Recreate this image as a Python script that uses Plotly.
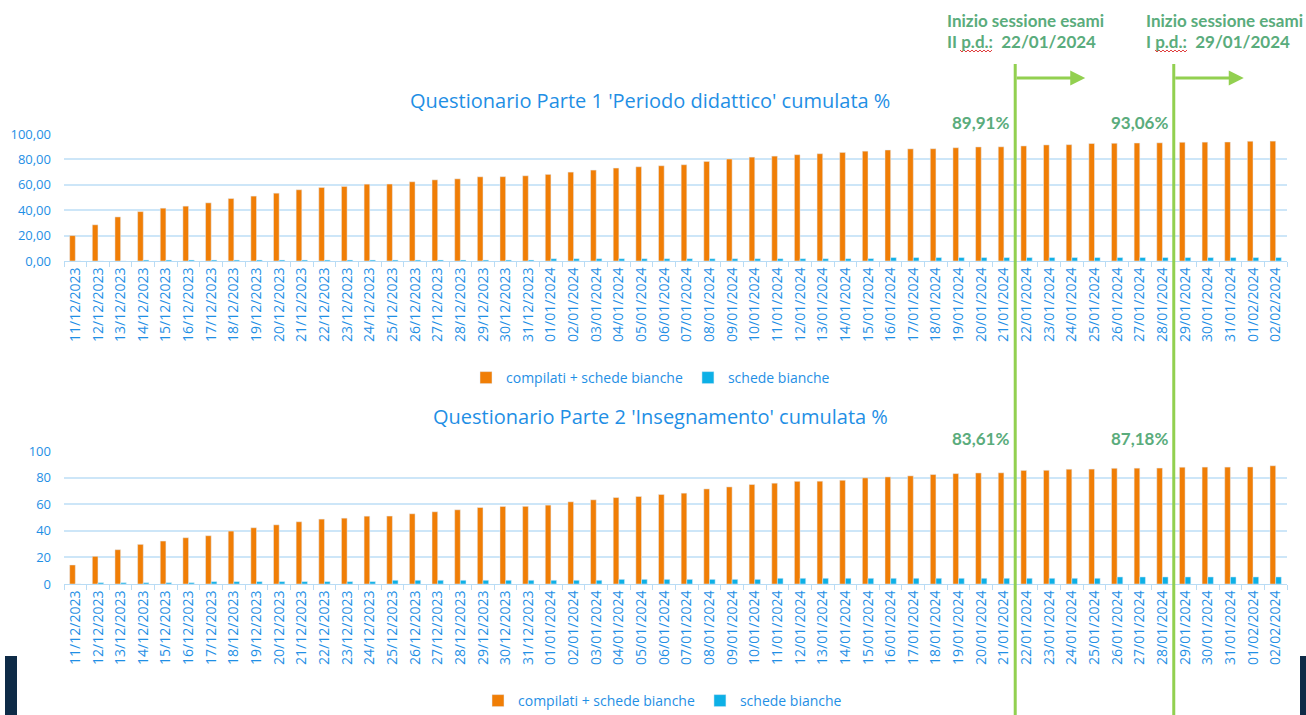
import plotly.graph_objects as go

dates = [
    "11/12/2023", "12/12/2023", "13/12/2023", "14/12/2023", "15/12/2023", "16/12/2023",
    "17/12/2023", "18/12/2023", "19/12/2023", "20/12/2023", "21/12/2023", "22/12/2023",
    "23/12/2023", "24/12/2023", "25/12/2023", "26/12/2023", "27/12/2023", "28/12/2023",
    "29/12/2023", "30/12/2023", "31/12/2023", "01/01/2024", "02/01/2024", "03/01/2024",
    "04/01/2024", "05/01/2024", "06/01/2024", "07/01/2024", "08/01/2024", "09/01/2024",
    "10/01/2024", "11/01/2024", "12/01/2024", "13/01/2024", "14/01/2024", "15/01/2024",
    "16/01/2024", "17/01/2024", "18/01/2024", "19/01/2024", "20/01/2024", "21/01/2024",
    "22/01/2024", "23/01/2024", "24/01/2024", "25/01/2024", "26/01/2024", "27/01/2024",
    "28/01/2024", "29/01/2024", "30/01/2024", "31/01/2024", "01/02/2024", "02/02/2024",
]

p1_compilati = [
    20.0, 28.5, 34.7, 38.9, 41.6, 43.2, 45.8, 49.2, 51.1, 53.4, 56.1, 57.9, 58.7, 60.5,
    60.6, 62.4, 63.9, 64.7, 66.3, 66.4, 67.1, 68.2, 70.0, 71.6, 73.2, 74.2, 75.0, 75.8,
    78.4, 80.3, 81.8, 82.6, 83.7, 84.5, 85.5, 86.5, 87.4, 88.3, 88.4, 89.2, 89.8, 89.91,
    90.6, 91.4, 91.6, 92.5, 92.7, 92.9, 93.06, 93.5, 93.6, 93.7, 94.3, 94.4,
]
p1_bianche = [
    0.0, 0.0, 0.0, 0.8, 0.8, 0.8, 0.8, 0.8, 0.8, 0.8, 0.8, 0.8, 0.8, 0.8,
    0.8, 0.8, 0.8, 0.8, 0.8, 0.8, 0.8, 1.8, 1.8, 1.8, 1.8, 1.8, 1.8, 1.8,
    1.8, 1.8, 1.8, 1.8, 1.8, 1.8, 1.8, 1.9, 2.7, 2.7, 2.7, 2.7, 2.7, 2.7,
    2.7, 2.7, 2.7, 2.7, 2.7, 2.7, 2.7, 2.7, 2.7, 2.7, 2.7, 2.7,
]
p2_compilati = [
    14.3, 20.8, 25.8, 29.8, 32.3, 34.8, 36.3, 39.8, 42.3, 44.5, 46.8, 48.8, 49.5, 51.0,
    51.1, 52.8, 54.3, 55.8, 57.5, 58.3, 58.4, 59.3, 61.8, 63.3, 65.0, 65.8, 67.3, 68.3,
    71.5, 73.0, 74.8, 75.8, 77.2, 77.3, 78.0, 79.8, 80.5, 81.3, 82.3, 83.0, 83.5, 83.61,
    85.4, 85.5, 86.3, 86.4, 87.0, 87.1, 87.18, 87.8, 87.9, 87.9, 88.0, 88.9,
]
p2_bianche = [
    0.0, 1.0, 1.0, 1.0, 1.0, 1.0, 1.8, 1.8, 1.8, 1.8, 1.8, 1.8, 1.8, 1.8,
    2.8, 2.8, 2.8, 2.8, 2.8, 2.8, 2.8, 2.8, 2.8, 2.8, 3.5, 3.5, 3.5, 3.5,
    3.5, 3.5, 3.5, 4.3, 4.3, 4.3, 4.3, 4.3, 4.3, 4.3, 4.3, 4.3, 4.3, 4.3,
    4.3, 4.3, 4.3, 4.3, 5.3, 5.3, 5.3, 5.3, 5.3, 5.3, 5.3, 5.3,
]

title1 = "Questionario Parte 1 'Periodo didattico' cumulata %"
title2 = "Questionario Parte 2 'Insegnamento' cumulata %"
series_names = ["compilati + schede bianche", "schede bianche"]
pct_labels1 = ["89,91%", "93,06%"]
pct_labels2 = ["83,61%", "87,18%"]
session_line1 = ["Inizio sessione esami", "Inizio sessione esami"]
session_line2 = ["II p.d.:  22/01/2024", "I p.d.:  29/01/2024"]
session_dates = ["22/01/2024", "29/01/2024"]
session_text_shift = [-70, -30]

ORANGE = "#f07e06"
CYAN = "#0db0e6"
BLUE = "#1f8fe5"
GRID = "#cde6f8"
GREEN_TXT = "#5aac7c"
GREEN_LINE = "#92d050"
NAVY = "#0e2b47"

# layout coordinates are given in reference pixels; vertical ones scaled by S
REF_H = 715
H = 729
S = H / REF_H
DY = -2
W = 1306
ML, MR = 64, 19
MT = (133 + DY) * S
MB = H - (583 + DY) * S
PW, PH = W - ML - MR, H - MT - MB


def px(xp):
    return (xp - ML) / PW


def py(yp):
    return (H - MB - (yp + DY) * S) / PH


fig = go.Figure()
fig.add_trace(go.Bar(x=dates, y=p1_compilati, name=series_names[0], marker_color=ORANGE,
                     xaxis="x", yaxis="y", legend="legend"))
fig.add_trace(go.Bar(x=dates, y=p1_bianche, name=series_names[1], marker_color=CYAN,
                     xaxis="x", yaxis="y", legend="legend"))
fig.add_trace(go.Bar(x=dates, y=p2_compilati, name=series_names[0], marker_color=ORANGE,
                     xaxis="x2", yaxis="y2", legend="legend2"))
fig.add_trace(go.Bar(x=dates, y=p2_bianche, name=series_names[1], marker_color=CYAN,
                     xaxis="x2", yaxis="y2", legend="legend2"))

xcommon = dict(type="category", range=[-0.5, len(dates) - 0.5], tickangle=-90,
               tickfont=dict(family="Open Sans", size=14, color=BLUE),
               showgrid=False, showline=True, linecolor="#b9dcf5", linewidth=1,
               ticks="outside", tickson="boundaries", ticklen=5, tickcolor="#b9dcf5",
               tickmode="array", tickvals=dates, automargin=False, fixedrange=True)
ycommon = dict(range=[0, 100], dtick=20, showgrid=True, gridcolor=GRID, gridwidth=1.5,
               zeroline=False, showline=False,
               tickfont=dict(family="Open Sans", size=13, color=BLUE),
               ticklabelstandoff=12, automargin=False, fixedrange=True)

top_dom = [py(260), 1.0]
bot_dom = [0.0, py(450)]

legfont = dict(family="Open Sans", size=14, color=BLUE)
fig.update_layout(
    width=W, height=H,
    margin=dict(l=ML, r=MR, t=MT, b=MB),
    paper_bgcolor="white", plot_bgcolor="white",
    separators=",.",
    barmode="group", bargap=0.5, bargroupgap=0.0,
    xaxis=dict(xcommon, domain=[0, 1], anchor="y"),
    xaxis2=dict(xcommon, domain=[0, 1], anchor="y2"),
    yaxis=dict(ycommon, domain=top_dom, anchor="x", tickformat=".2f"),
    yaxis2=dict(ycommon, domain=bot_dom, anchor="x2", tickformat="d"),
    legend=dict(orientation="h", x=px(466), y=py(377), xanchor="left", yanchor="middle",
                font=legfont, bgcolor="rgba(0,0,0,0)", itemwidth=30),
    legend2=dict(orientation="h", x=px(478), y=py(700), xanchor="left", yanchor="middle",
                 font=legfont, bgcolor="rgba(0,0,0,0)", itemwidth=30),
    showlegend=True,
)

ann = []
ann.append(dict(text=title1, xref="paper", yref="paper", x=px(650), y=py(100),
                xanchor="center", yanchor="middle", showarrow=False,
                font=dict(family="Open Sans", size=20, color=BLUE)))
ann.append(dict(text=title2, xref="paper", yref="paper", x=px(660), y=py(415),
                xanchor="center", yanchor="middle", showarrow=False,
                font=dict(family="Open Sans", size=20, color=BLUE)))

idx = [dates.index(d) for d in session_dates]
for k, i in enumerate(idx):
    ann.append(dict(text="<b>%s</b>" % pct_labels1[k], xref="x", yref="paper",
                    x=i - 0.5, xshift=-4, y=py(122), xanchor="right", yanchor="middle",
                    showarrow=False, font=dict(family="Lato", size=17, color=GREEN_TXT)))
    ann.append(dict(text="<b>%s</b>" % pct_labels2[k], xref="x", yref="paper",
                    x=i - 0.5, xshift=-4, y=py(437), xanchor="right", yanchor="middle",
                    showarrow=False, font=dict(family="Lato", size=17, color=GREEN_TXT)))
    ann.append(dict(text="<b>%s</b>" % session_line1[k], xref="x", yref="paper",
                    x=i - 0.5, xshift=session_text_shift[k], y=py(20), xanchor="left",
                    yanchor="middle", align="left", showarrow=False,
                    font=dict(family="Lato", size=17, color=GREEN_TXT)))
    ann.append(dict(text="<b>%s</b>" % session_line2[k], xref="x", yref="paper",
                    x=i - 0.5, xshift=session_text_shift[k], y=py(41), xanchor="left",
                    yanchor="middle", align="left", showarrow=False,
                    font=dict(family="Lato", size=17, color=GREEN_TXT)))
    ann.append(dict(text="", xref="x", yref="paper", x=i - 0.5, xshift=70, y=py(77),
                    ax=-70, ay=0, axref="pixel", ayref="pixel", showarrow=True,
                    arrowhead=2, arrowsize=1, arrowwidth=3, arrowcolor=GREEN_LINE))

fig.update_layout(annotations=ann)


def squiggle(x0, x1, yc):
    pts = []
    x = x0
    up = True
    while x <= x1:
        pts.append("%.5f,%.5f" % (px(x), py(yc - 1 if up else yc + 1)))
        x += 2
        up = not up
    return "M " + " L ".join(pts)


shapes = []
for i in idx:
    shapes.append(dict(type="line", xref="x", yref="paper", x0=i - 0.5, x1=i - 0.5,
                       y0=py(720), y1=py(63), line=dict(color=GREEN_LINE, width=3)))
for (sx0, sx1) in [(960, 992), (1155, 1187)]:
    shapes.append(dict(type="path", xref="paper", yref="paper", path=squiggle(sx0, sx1, 50),
                       line=dict(color="#e04040", width=1)))
shapes.append(dict(type="rect", xref="paper", yref="paper", x0=px(5), x1=px(17),
                   y0=py(720), y1=py(655), fillcolor=NAVY, line=dict(width=0)))
shapes.append(dict(type="rect", xref="paper", yref="paper", x0=px(1300), x1=px(1306),
                   y0=py(720), y1=py(655), fillcolor=NAVY, line=dict(width=0)))
fig.update_layout(shapes=shapes)

fig.write_html("out.html",
               config={"displayModeBar": False},
               post_script="document.body.style.margin='0';"
                           "document.body.style.overflow='hidden';")
